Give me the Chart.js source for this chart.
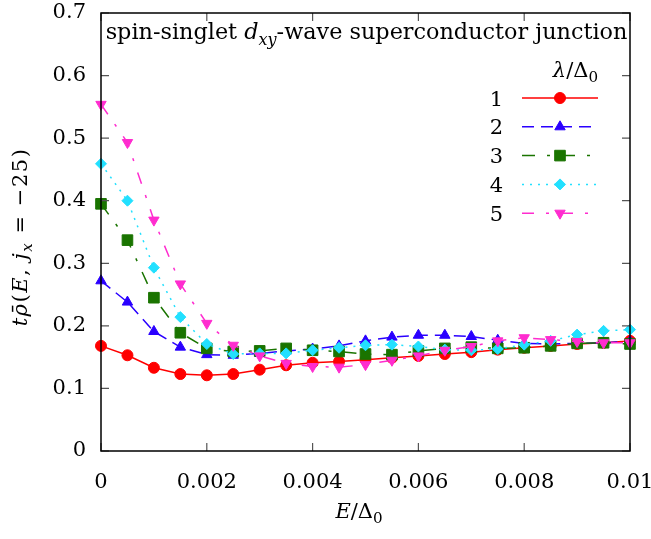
<!DOCTYPE html>
<html>
<head>
<meta charset="utf-8">
<script src="https://cdn.jsdelivr.net/npm/chart.js@4.4.0/dist/chart.umd.min.js"></script>
<style>
  body { margin: 0; background: #fff; }
  #wrap { width: 651px; height: 539px; }
</style>
</head>
<body>
<div id="wrap"><canvas id="dosChart"></canvas></div>
<script>
// Energy grid E/Delta0
const energies = [0, 0.0005, 0.001, 0.0015, 0.002, 0.0025, 0.003, 0.0035, 0.004, 0.0045, 0.005,
                  0.0055, 0.006, 0.0065, 0.007, 0.0075, 0.008, 0.0085, 0.009, 0.0095, 0.01];

// t*rho(E, jx=-25) for lambda/Delta0 = 1..5
const rhoLambda1 = [0.168, 0.153, 0.133, 0.123, 0.121, 0.123, 0.130, 0.137, 0.141, 0.143, 0.146,
                    0.149, 0.152, 0.155, 0.158, 0.162, 0.165, 0.168, 0.171, 0.173, 0.176];
const rhoLambda2 = [0.272, 0.238, 0.191, 0.166, 0.154, 0.153, 0.156, 0.160, 0.163, 0.168, 0.176,
                    0.182, 0.185, 0.185, 0.183, 0.177, 0.172, 0.171, 0.172, 0.173, 0.175];
const rhoLambda3 = [0.395, 0.337, 0.245, 0.189, 0.164, 0.159, 0.160, 0.164, 0.161, 0.159, 0.155,
                    0.154, 0.160, 0.164, 0.166, 0.164, 0.165, 0.168, 0.172, 0.173, 0.171];
const rhoLambda4 = [0.459, 0.400, 0.293, 0.214, 0.171, 0.155, 0.156, 0.156, 0.161, 0.165, 0.169,
                    0.170, 0.167, 0.162, 0.161, 0.163, 0.170, 0.176, 0.186, 0.192, 0.194];
const rhoLambda5 = [0.554, 0.493, 0.369, 0.267, 0.204, 0.169, 0.152, 0.140, 0.135, 0.134, 0.138,
                    0.145, 0.152, 0.161, 0.167, 0.176, 0.181, 0.178, 0.175, 0.173, 0.173];

const lambdaLabels = ['1', '2', '3', '4', '5'];

const xTicks = [0, 0.002, 0.004, 0.006, 0.008, 0.01];
const xTickLabels = ['0', '0.002', '0.004', '0.006', '0.008', '0.01'];
const yTicks = [0, 0.1, 0.2, 0.3, 0.4, 0.5, 0.6, 0.7];
const yTickLabels = ['0', '0.1', '0.2', '0.3', '0.4', '0.5', '0.6', '0.7'];

const SERIF = "'DejaVu Serif', serif";
const FONT_PX = 21;

function toPoints(ys) {
    return ys.map((y, i) => ({ x: energies[i], y: y }));
}

// one entry per curve: colour, dash and marker
function makeSeries(label, ys, color, dash, style, radius, rotation, order) {
    return {
        label: label,
        data: toPoints(ys),
        borderColor: color,
        backgroundColor: color,
        borderWidth: 1.5,
        borderDash: dash,
        pointStyle: style,
        pointRadius: radius,
        pointRotation: rotation,
        pointBackgroundColor: color,
        pointBorderColor: color,
        pointBorderWidth: 1,
        tension: 0,
        clip: false,
        order: order
    };
}

const datasets = [
    makeSeries(lambdaLabels[0], rhoLambda1, '#ff0000', [], 'circle', 5.5, 0, 5),
    makeSeries(lambdaLabels[1], rhoLambda2, '#2a00ff', [12, 7], 'triangle', 6, 0, 4),
    makeSeries(lambdaLabels[2], rhoLambda3, '#1a7400', [13, 12, 3, 12], 'rect', 7.5, 0, 3),
    makeSeries(lambdaLabels[3], rhoLambda4, '#22e0ff', [2, 6], 'rectRot', 5.5, 0, 2),
    makeSeries(lambdaLabels[4], rhoLambda5, '#ff2ccf', [12, 12, 3, 12], 'triangle', 6, 180, 1)
];

// draw text made of roman / italic / subscript pieces
function richWidth(ctx, parts, size) {
    let w = 0;
    parts.forEach(p => {
        ctx.font = (p.it ? 'italic ' : '') + (p.sub ? size * 0.72 : size) + 'px ' + SERIF;
        w += ctx.measureText(p.t).width;
    });
    return w;
}

function drawRich(ctx, parts, x, y, align, size) {
    const w = richWidth(ctx, parts, size);
    let cx = align === 'center' ? x - w / 2 : (align === 'right' ? x - w : x);
    ctx.textAlign = 'left';
    ctx.textBaseline = 'alphabetic';
    ctx.fillStyle = '#000';
    parts.forEach(p => {
        ctx.font = (p.it ? 'italic ' : '') + (p.sub ? size * 0.72 : size) + 'px ' + SERIF;
        ctx.fillText(p.t, cx, p.sub ? y + size * 0.25 : y);
        cx += ctx.measureText(p.t).width;
    });
}

function markerAt(ctx, ds, x, y) {
    ctx.save();
    ctx.fillStyle = ds.pointBackgroundColor;
    ctx.strokeStyle = ds.pointBorderColor;
    ctx.setLineDash([]);
    ctx.lineWidth = ds.pointBorderWidth;
    Chart.helpers.drawPoint(ctx, {
        pointStyle: ds.pointStyle,
        radius: ds.pointRadius,
        rotation: ds.pointRotation,
        borderWidth: ds.pointBorderWidth
    }, x, y);
    ctx.restore();
}

const gnuplotFrame = {
    id: 'gnuplotFrame',
    afterDraw(chart) {
        const ctx = chart.ctx;
        const a = chart.chartArea;
        const xs = chart.scales.x;
        const ys = chart.scales.y;
        ctx.save();
        ctx.setLineDash([]);
        ctx.lineDashOffset = 0;
        ctx.globalAlpha = 1;
        ctx.globalCompositeOperation = 'source-over';

        // title inside the box, stretched to the box width like the original
        const titleParts = [
            { t: 'spin-singlet ' }, { t: 'd', it: true }, { t: 'xy', it: true, sub: true },
            { t: '-wave superconductor junction' }
        ];
        const tw = richWidth(ctx, titleParts, FONT_PX);
        const ts = Math.min(FONT_PX * 522 / tw, 23);
        drawRich(ctx, titleParts, (a.left + a.right) / 2 + 1, a.top + 26, 'center', ts);

        // axis titles
        drawRich(ctx, [{ t: 'E', it: true }, { t: '/Δ' }, { t: '0', sub: true }],
                 359, 518, 'center', FONT_PX);
        ctx.save();
        ctx.translate(27, (a.top + a.bottom) / 2 + 5);
        ctx.rotate(-Math.PI / 2);
        ctx.letterSpacing = '1.5px';
        drawRich(ctx, [
            { t: 't', it: true }, { t: 'ρ\u0304', it: true }, { t: '(' }, { t: 'E', it: true },
            { t: ', ' }, { t: 'j', it: true }, { t: 'x', it: true, sub: true },
            { t: ' = −25)' }
        ], 0, 0, 'center', FONT_PX);
        ctx.letterSpacing = '0px';
        ctx.restore();

        // key
        drawRich(ctx, [{ t: 'λ', it: true }, { t: '/Δ' }, { t: '0', sub: true }],
                 598, 77, 'right', FONT_PX);
        chart.data.datasets.forEach((ds, i) => {
            const cy = 98 + i * 28.8;
            drawRich(ctx, [{ t: ds.label }], 503, cy + 7.5, 'right', FONT_PX);
            ctx.save();
            ctx.strokeStyle = ds.borderColor;
            ctx.lineWidth = ds.borderWidth;
            ctx.setLineDash(ds.borderDash);
            ctx.beginPath();
            ctx.moveTo(522, cy); ctx.lineTo(598, cy);
            ctx.stroke();
            ctx.restore();
            markerAt(ctx, ds, 560, cy);
        });

        // inward ticks on all four sides
        ctx.setLineDash([]);
        ctx.strokeStyle = '#555555';
        ctx.lineWidth = 1.2;
        ctx.beginPath();
        xTicks.forEach(v => {
            const px = xs.getPixelForValue(v);
            ctx.moveTo(px, a.bottom); ctx.lineTo(px, a.bottom - 8);
            ctx.moveTo(px, a.top); ctx.lineTo(px, a.top + 8);
        });
        yTicks.forEach(v => {
            const py = ys.getPixelForValue(v);
            ctx.moveTo(a.left, py); ctx.lineTo(a.left + 8, py);
            ctx.moveTo(a.right, py); ctx.lineTo(a.right - 8, py);
        });
        ctx.stroke();

        // border
        ctx.strokeStyle = '#000000';
        ctx.lineWidth = 1.5;
        ctx.beginPath();
        ctx.rect(a.left, a.top, a.right - a.left, a.bottom - a.top);
        ctx.stroke();
        ctx.restore();
    }
};

const ctx = document.getElementById('dosChart').getContext('2d');
const dosChart = new Chart(ctx, {
    type: 'line',
    data: { datasets: datasets },
    options: {
        responsive: true,
        maintainAspectRatio: false,
        animation: false,
        devicePixelRatio: 1,
        layout: { padding: { top: 13, right: 21, left: 0, bottom: 0 } },
        scales: {
            x: {
                type: 'linear',
                min: 0,
                max: 0.01,
                afterBuildTicks: scale => { scale.ticks = xTicks.map(v => ({ value: v })); },
                afterFit: scale => {
                    scale.height = 88;
                    scale.paddingLeft = 0;
                    scale.paddingRight = 0;
                },
                grid: { display: false, drawTicks: false },
                border: { display: false },
                ticks: {
                    padding: 19,
                    color: '#000',
                    maxRotation: 0,
                    autoSkip: false,
                    font: { family: SERIF, size: FONT_PX },
                    callback: (v, i) => xTickLabels[i]
                }
            },
            y: {
                min: 0,
                max: 0.7,
                afterBuildTicks: scale => { scale.ticks = yTicks.map(v => ({ value: v })); },
                afterFit: scale => {
                    scale.width = 101;
                    scale.paddingTop = 0;
                    scale.paddingBottom = 0;
                },
                grid: { display: false, drawTicks: false },
                border: { display: false },
                ticks: {
                    padding: 15,
                    color: '#000',
                    autoSkip: false,
                    font: { family: SERIF, size: FONT_PX },
                    callback: (v, i) => yTickLabels[i]
                }
            }
        },
        plugins: {
            legend: { display: false },
            tooltip: { enabled: false }
        }
    },
    plugins: [gnuplotFrame]
});
</script>
</body>
</html>
